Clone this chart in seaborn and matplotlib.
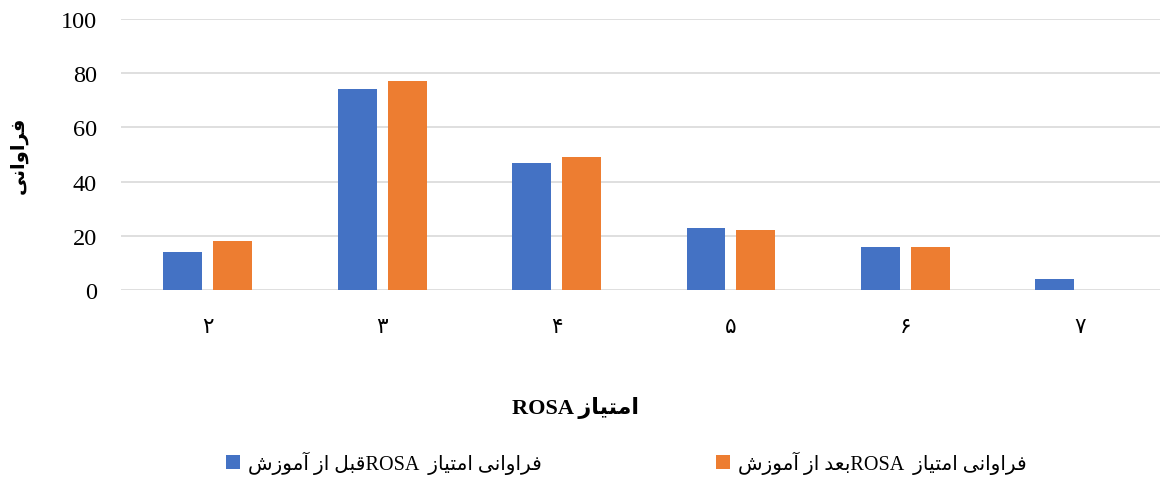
import matplotlib
matplotlib.use("Agg")
import matplotlib.pyplot as plt
import seaborn as sns
import pandas as pd

# data
scores = ["۲", "۳", "۴", "۵", "۶", "۷"]
before = [14, 74, 47, 23, 16, 4]
after = [18, 77, 49, 22, 16, 0]
series_names = ["before", "after"]
colors = ["#4472C4", "#ED7D31"]
y_ticks = [0, 20, 40, 60, 80, 100]

# minimal Persian shaping (no arabic_reshaper available): presentation forms
# (isolated, final, initial, medial)
FORMS = {
    "ا": ("\uFE8D", "\uFE8E", None, None),
    "آ": ("\uFE81", "\uFE82", None, None),
    "د": ("\uFEA9", "\uFEAA", None, None),
    "ر": ("\uFEAD", "\uFEAE", None, None),
    "ز": ("\uFEAF", "\uFEB0", None, None),
    "و": ("\uFEED", "\uFEEE", None, None),
    "ب": ("\uFE8F", "\uFE90", "\uFE91", "\uFE92"),
    "ت": ("\uFE95", "\uFE96", "\uFE97", "\uFE98"),
    "ش": ("\uFEB5", "\uFEB6", "\uFEB7", "\uFEB8"),
    "ع": ("\uFEC9", "\uFECA", "\uFECB", "\uFECC"),
    "ف": ("\uFED1", "\uFED2", "\uFED3", "\uFED4"),
    "ق": ("\uFED5", "\uFED6", "\uFED7", "\uFED8"),
    "ل": ("\uFEDD", "\uFEDE", "\uFEDF", "\uFEE0"),
    "م": ("\uFEE1", "\uFEE2", "\uFEE3", "\uFEE4"),
    "ن": ("\uFEE5", "\uFEE6", "\uFEE7", "\uFEE8"),
    "ی": ("\uFEEF", "\uFEF0", "\uFEF3", "\uFEF4"),
}


def fa(text):
    """shape a pure Persian string and return it in visual (LTR) order"""
    out = []
    for i, ch in enumerate(text):
        if ch not in FORMS:
            out.append(ch)
            continue
        prev = text[i - 1] if i > 0 else ""
        nxt = text[i + 1] if i + 1 < len(text) else ""
        jp = prev in FORMS and FORMS[prev][2] is not None
        jn = FORMS[ch][2] is not None and nxt in FORMS
        if jp and jn:
            out.append(FORMS[ch][3])
        elif jp:
            out.append(FORMS[ch][1])
        elif jn:
            out.append(FORMS[ch][2])
        else:
            out.append(FORMS[ch][0])
    return "".join(out)[::-1]


labels = {
    "before": fa("قبل از آموزش") + "ROSA  " + fa("فراوانی امتیاز"),
    "after": fa("بعد از آموزش") + "ROSA  " + fa("فراوانی امتیاز"),
}

df = pd.DataFrame({
    "score": scores * 2,
    "freq": before + after,
    "series": [labels[s] for s in series_names for _ in scores],
})

sns.set_style("white")
plt.rcParams["font.family"] = ["Liberation Serif", "DejaVu Sans"]
plt.rcParams["text.color"] = "black"
plt.rcParams["xtick.color"] = "black"
plt.rcParams["ytick.color"] = "black"
plt.rcParams["axes.labelcolor"] = "black"

fig = plt.figure(figsize=(11.6, 4.81), dpi=100)
ax = fig.add_axes([0.104, 0.395, 0.902, 0.5634])

sns.barplot(data=df, x="score", y="freq", hue="series",
            palette=colors, saturation=1, width=0.573, gap=0.22,
            linewidth=0, ax=ax, legend=True)

ax.set_ylim(0, 100)
ax.set_yticks(y_ticks)
ax.yaxis.grid(True, color="#d9d9d9", linewidth=1.2)
ax.set_axisbelow(True)
for s in ax.spines.values():
    s.set_visible(False)
ax.tick_params(axis="y", length=0, pad=17, labelsize=17.5)
ax.tick_params(axis="x", length=0, pad=20, labelsize=15.5)
ax.set_xlabel("")
ax.set_ylabel(fa("فراوانی"), fontsize=14, fontweight="bold", labelpad=24)

fig.text(0.496, 0.152, "ROSA " + fa("امتیاز"), ha="center", va="center",
         fontsize=16, fontweight="bold")

handles, labs = ax.get_legend_handles_labels()
ax.get_legend().remove()
fig.legend(handles, labs, loc="center", bbox_to_anchor=(0.540, 0.037),
           ncol=2, frameon=False, fontsize=14.5, handlelength=0.7,
           handleheight=0.7, handletextpad=0.4, columnspacing=8.6)

fig.savefig("out.png", dpi=100)
